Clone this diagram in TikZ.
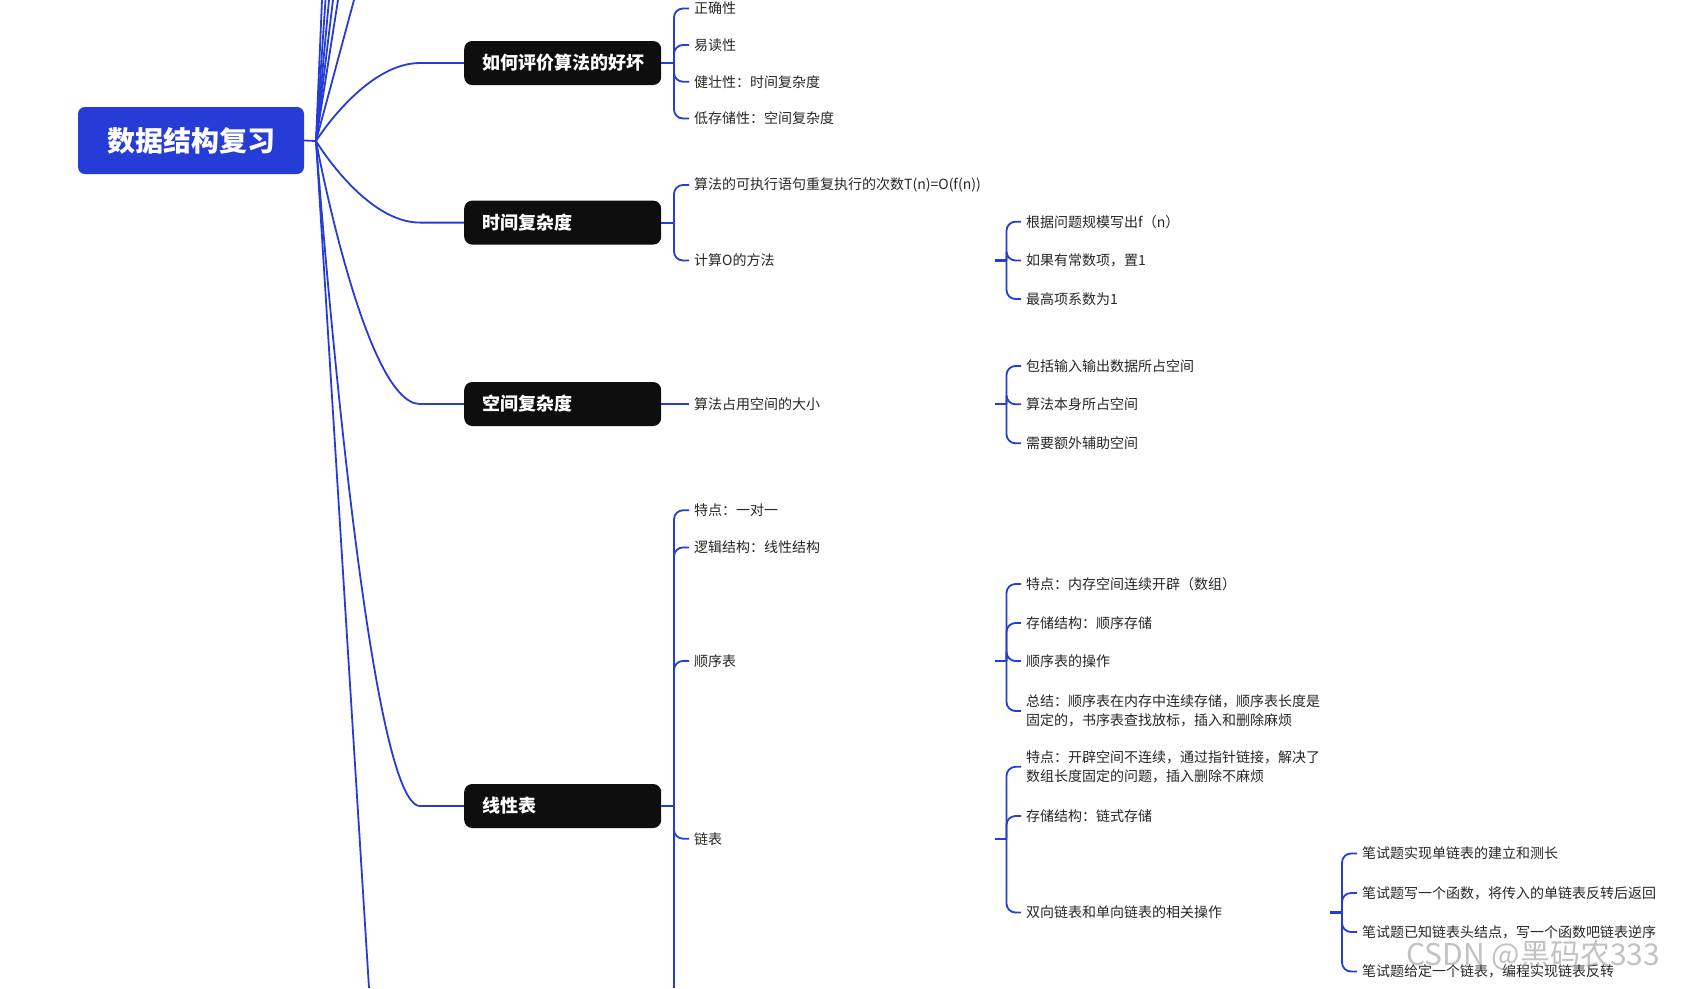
\documentclass[tikz,border=0pt]{standalone}
\usepackage{fontspec}
\setmainfont{Noto Sans CJK SC}
\usepackage{xcolor}
\usepackage{tikz}
\usetikzlibrary{positioning, calc}
\definecolor{mapblue}{RGB}{38,60,214}
\definecolor{topicblack}{RGB}{14,14,14}

\begin{document}
\begin{tikzpicture}[
    x=1pt, y=-1pt,
    rootbox/.style={fill=mapblue, rounded corners=7pt, minimum width=226pt,
                    minimum height=67pt, text=white,
                    font=\fontsize{28}{32}\selectfont\bfseries},
    topic/.style={fill=topicblack, rounded corners=8pt, anchor=west,
                  minimum height=44pt, text width=161pt, inner xsep=18pt,
                  align=left, text=white,
                  font=\fontsize{18}{22}\selectfont\bfseries},
    leaf/.style={anchor=west, inner xsep=5pt, inner ysep=2pt, align=left,
                 text=black!85, font=\fontsize{14}{19}\selectfont},
    link/.style={draw=mapblue, line width=1.8pt},
    brace/.style={link, rounded corners=9pt},
    stub/.style={draw=mapblue, line width=2.8pt},
  ]
  \useasboundingbox (0,0) rectangle (1686,988);

  % ── root ──
  \node[rootbox] (root) at (191,140.5) {数据结构复习};
  \coordinate (hub) at (316,141);
  \draw[link] (root.east) -- (hub);

  % ── main topics ──
  \node[topic] (eval)  at (464,63)    {如何评价算法的好坏};
  \node[topic] (tcomp) at (464,222.6) {时间复杂度};
  \node[topic] (scomp) at (464,404)   {空间复杂度};
  \node[topic] (lin)   at (464,806)   {线性表};

  \foreach \t in {eval,tcomp,scomp,lin}
    \draw[link] (hub) .. controls (hub) and ($(\t.west)+(-99,0)$)
      .. ($(\t.west)+(-44,0)$) -- (\t.west);

  % branches leaving the view
  \foreach \x [count=\i] in {322,325.5,329,333,338,354} {
    \coordinate (up\i) at (\x,0);
    \draw[link] (hub) -- (up\i);
  }
  \coordinate (down) at (369,988);
  \draw[link] (hub) -- (down);

  % ── 如何评价算法的好坏 ──
  \coordinate (s1) at (674,63);
  \node[leaf] (e1) at (689,8.5)   {正确性};
  \node[leaf] (e2) at (689,45)    {易读性};
  \node[leaf] (e3) at (689,81.7)  {健壮性：时间复杂度};
  \node[leaf] (e4) at (689,118.5) {低存储性：空间复杂度};
  \draw[link] (eval.east) -- (s1);
  \foreach \c in {e1,e2,e3,e4} \draw[brace] (s1) |- (\c.west);

  % ── 时间复杂度 ──
  \coordinate (s2) at (674,222.6);
  \node[leaf] (t1) at (689,185)   {算法的可执行语句重复执行的次数T(n)=O(f(n))};
  \node[leaf] (t2) at (689,260.5) {计算O的方法};
  \draw[link] (tcomp.east) -- (s2);
  \foreach \c in {t1,t2} \draw[brace] (s2) |- (\c.west);

  \coordinate (t2s) at (994.5,260.5);
  \coordinate (s21) at (1006.5,260.5);
  \node[leaf] (t21) at (1021,221.7) {根据问题规模写出f（n）};
  \node[leaf] (t22) at (1021,260.5) {如果有常数项，置1};
  \node[leaf] (t23) at (1021,299)   {最高项系数为1};
  \draw[stub] (t2s) -- (s21);
  \foreach \c in {t21,t22,t23} \draw[brace] (s21) |- (\c.west);

  % ── 空间复杂度 ──
  \node[leaf] (sp1) at (689,404) {算法占用空间的大小};
  \draw[link] (scomp.east) -- (sp1.west);

  \coordinate (sp1s) at (994.5,404);
  \coordinate (s31) at (1006.5,404);
  \node[leaf] (sp11) at (1021,366)   {包括输入输出数据所占空间};
  \node[leaf] (sp12) at (1021,404.3) {算法本身所占空间};
  \node[leaf] (sp13) at (1021,443.3) {需要额外辅助空间};
  \draw[stub] (sp1s) -- (s31);
  \foreach \c in {sp11,sp12,sp13} \draw[brace] (s31) |- (\c.west);

  % ── 线性表 ──
  \coordinate (s4) at (674,806);
  \coordinate (s4end) at (674,988);
  \node[leaf] (l1) at (689,510.3) {特点：一对一};
  \node[leaf] (l2) at (689,547.4) {逻辑结构：线性结构};
  \node[leaf] (l3) at (689,661)   {顺序表};
  \node[leaf] (l4) at (689,838.7) {链表};
  \draw[link] (lin.east) -- (s4);
  \draw[link] (s4) -- (s4end);
  \foreach \c in {l1,l2,l3,l4} \draw[brace] (s4) |- (\c.west);

  % sequential list
  \coordinate (l3s) at (994.5,661);
  \coordinate (s43) at (1006.5,661);
  \node[leaf] (l31) at (1021,584)   {特点：内存空间连续开辟（数组）};
  \node[leaf] (l32) at (1021,623)   {存储结构：顺序存储};
  \node[leaf] (l33) at (1021,661)   {顺序表的操作};
  \node[leaf] (l34) at (1021,711)   {总结：顺序表在内存中连续存储，顺序表长度是\\固定的，书序表查找放标，插入和删除麻烦};
  \draw[stub] (l3s) -- (s43);
  \foreach \c in {l31,l32,l33,l34} \draw[brace] (s43) |- (\c.west);

  % linked list
  \coordinate (l4s) at (994.5,839);
  \coordinate (s44) at (1006.5,839);
  \node[leaf] (l41) at (1021,766.8) {特点：开辟空间不连续，通过指针链接，解决了\\数组长度固定的问题，插入删除不麻烦};
  \node[leaf] (l42) at (1021,816)   {存储结构：链式存储};
  \node[leaf] (l43) at (1021,912.5) {双向链表和单向链表的相关操作};
  \draw[stub] (l4s) -- (s44);
  \foreach \c in {l41,l42,l43} \draw[brace] (s44) |- (\c.west);

  \coordinate (l43s) at (1330,912.5);
  \coordinate (s443) at (1342,912.5);
  \node[leaf] (q1) at (1357,853.5) {笔试题实现单链表的建立和测长};
  \node[leaf] (q2) at (1357,893)   {笔试题写一个函数，将传入的单链表反转后返回};
  \node[leaf] (q3) at (1357,932)   {笔试题已知链表头结点，写一个函数吧链表逆序};
  \node[leaf] (q4) at (1357,971.5) {笔试题给定一个链表，编程实现链表反转};
  \draw[stub] (l43s) -- (s443);
  \foreach \c in {q1,q2,q3,q4} \draw[brace] (s443) |- (\c.west);

  % watermark
  \node[anchor=west, text=black!40, text opacity=0.6,
        font=\fontsize{30}{30}\selectfont] (wmark) at (1403,955) {CSDN @黑码农333};
\end{tikzpicture}
\end{document}
